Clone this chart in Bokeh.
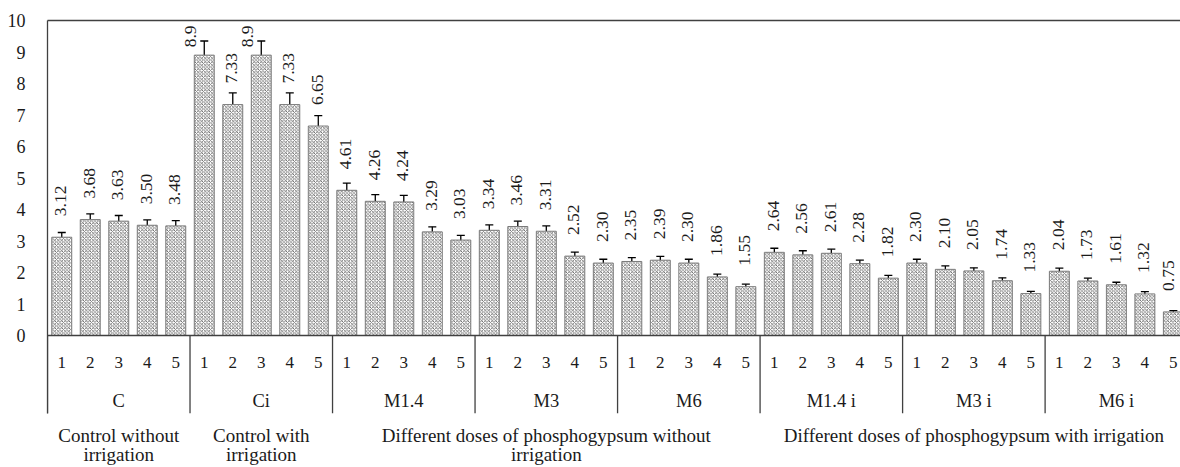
import numpy as np
from bokeh.plotting import figure
from bokeh.models import (ColumnDataSource, FixedTicker, LinearAxis, Range1d,
                          Whisker, TeeHead, Span)
from bokeh.core.properties import value
from bokeh.embed import file_html
from bokeh.resources import INLINE

# ---- data ----
groups = ["C", "Ci", "M1.4", "M3", "M6", "M1.4 i", "M3 i", "M6 i"]
doses = ["1", "2", "3", "4", "5"]
values = [3.12, 3.68, 3.63, 3.50, 3.48,
          8.90, 7.33, 8.90, 7.33, 6.65,
          4.61, 4.26, 4.24, 3.29, 3.03,
          3.34, 3.46, 3.31, 2.52, 2.30,
          2.35, 2.39, 2.30, 1.86, 1.55,
          2.64, 2.56, 2.61, 2.28, 1.82,
          2.30, 2.10, 2.05, 1.74, 1.33,
          2.04, 1.73, 1.61, 1.32, 0.75]
value_labels = ["3.12", "3.68", "3.63", "3.50", "3.48",
                "8.9", "7.33", "8.9", "7.33", "6.65",
                "4.61", "4.26", "4.24", "3.29", "3.03",
                "3.34", "3.46", "3.31", "2.52", "2.30",
                "2.35", "2.39", "2.30", "1.86", "1.55",
                "2.64", "2.56", "2.61", "2.28", "1.82",
                "2.30", "2.10", "2.05", "1.74", "1.33",
                "2.04", "1.73", "1.61", "1.32", "0.75"]
errors = [0.15, 0.18, 0.18, 0.17, 0.17,
          0.45, 0.37, 0.45, 0.37, 0.33,
          0.23, 0.21, 0.21, 0.16, 0.15,
          0.17, 0.17, 0.17, 0.13, 0.12,
          0.12, 0.12, 0.12, 0.09, 0.08,
          0.13, 0.13, 0.13, 0.11, 0.09,
          0.12, 0.11, 0.10, 0.09, 0.07,
          0.10, 0.09, 0.08, 0.07, 0.04]
descriptions = ["Control without\nirrigation", "Control with\nirrigation",
                "Different doses of phosphogypsum without\nirrigation",
                "Different doses of phosphogypsum with irrigation"]
description_spans = [1, 1, 3, 3]   # number of groups each description covers
y_ticks = [0, 1, 2, 3, 4, 5, 6, 7, 8, 9, 10]

# ---- style ----
FONT = "Liberation Serif"
TXT = "#1a1a1a"
LINE = "#404040"
W, H = 1180, 467
BORDER_L, BORDER_T, BORDER_B = 47, 20, 54
PX_PER_UNIT = 31.5
Y_TOP = 10
X_START, X_END = -0.5, 39.25
frame_h = H - BORDER_T - BORDER_B
frame_w = W - BORDER_L
y_bottom = Y_TOP - frame_h / PX_PER_UNIT      # room below 0 for category rows
slot_px = frame_w / (X_END - X_START)

n = len(values)
nd = len(doses)
x = np.arange(n, dtype=float)
vals = np.array(values)
errs = np.array(errors)

# label anchor: 21px above the bar, pushed down/left when it would leave the plot
anchor = vals + 21 / PX_PER_UNIT
limit = 9.15
clamped = anchor > limit
px = BORDER_L + (x - X_START) * slot_px
dx = np.minimum(-1.0, (W - 12) - px)          # keep labels inside the right edge
src = ColumnDataSource(dict(
    x=x, top=vals, upper=vals + errs, lower=vals - errs,
    label_y=np.minimum(anchor, limit),
    label_dx=np.where(clamped, -14.0, dx), label=value_labels))

p = figure(width=W, height=H, output_backend="svg", toolbar_location=None,
           x_range=Range1d(X_START, X_END), y_range=Range1d(y_bottom, Y_TOP),
           min_border_left=BORDER_L, min_border_right=0, min_border_top=BORDER_T,
           min_border_bottom=BORDER_B, x_axis_location=None, y_axis_location=None,
           outline_line_color=None)
p.grid.visible = False
p.background_fill_color = "white"

p.vbar(x="x", top="top", width=0.7, source=src, fill_color="white",
       line_color="#7a7a7a", line_width=1,
       hatch_pattern="x", hatch_color="#555555", hatch_scale=3.5, hatch_weight=0.8)

p.add_layout(Whisker(base="x", upper="upper", lower="lower", source=src,
                     dimension="height", line_color="black", line_width=1.3,
                     upper_head=TeeHead(size=8, line_color="black", line_width=1.3),
                     lower_head=TeeHead(size=8, line_color="black", line_width=1.3)))

p.text(x="x", y="label_y", text="label", source=src, angle=np.pi / 2,
       x_offset="label_dx", text_align="left", text_baseline="middle",
       text_font=value(FONT), text_font_size="17.5px", text_color=TXT)

# x axis line at zero and group separators
p.add_layout(Span(location=0, dimension="width", line_color=LINE, line_width=1.3))
bounds = np.array([-0.5 + nd * i for i in range(len(groups) + 1)])
p.segment(x0=bounds, y0=np.zeros(len(bounds)), x1=bounds,
          y1=np.full(len(bounds), y_bottom), line_color=LINE, line_width=1.3)

# dose numbers row
dose_src = ColumnDataSource(dict(x=x, y=np.zeros(n),
                                 t=[doses[i % nd] for i in range(n)]))
p.text(x="x", y="y", text="t", source=dose_src, y_offset=27,
       text_align="center", text_baseline="middle",
       text_font=value(FONT), text_font_size="17px", text_color=TXT)

# group names row
gcent = np.array([nd * i + (nd - 1) / 2 for i in range(len(groups))])
grp_src = ColumnDataSource(dict(x=gcent, y=np.zeros(len(groups)), t=groups))
p.text(x="x", y="y", text="t", source=grp_src, y_offset=65,
       text_align="center", text_baseline="middle",
       text_font=value(FONT), text_font_size="18.5px", text_color=TXT)

# y axis
yax = LinearAxis(ticker=FixedTicker(ticks=y_ticks), axis_line_color=LINE,
                 axis_line_width=1.3,
                 major_tick_line_color=None, minor_tick_line_color=None,
                 major_label_text_font=FONT, major_label_text_font_size="18px",
                 major_label_text_color=TXT, major_label_standoff=16)
p.add_layout(yax, "left")

# top border line
top = LinearAxis(ticker=FixedTicker(ticks=[]), axis_line_color=LINE,
                 axis_line_width=1.3,
                 major_tick_line_color=None, minor_tick_line_color=None,
                 major_label_text_font_size="0px", major_label_standoff=0)
p.add_layout(top, "above")

# description axis below the frame
dcent = []
start = 0
for span in description_spans:
    dcent.append((start * nd - 0.5 + (start + span) * nd - 0.5) / 2)
    start += span
dax = LinearAxis(ticker=FixedTicker(ticks=dcent), axis_line_color=None,
                 major_tick_line_color=None, minor_tick_line_color=None,
                 major_label_overrides={c: d for c, d in zip(dcent, descriptions)},
                 major_label_text_font=FONT, major_label_text_font_size="19px",
                 major_label_text_color=TXT, major_label_standoff=5,
                 major_label_text_line_height=0.92)
p.add_layout(dax, "below")

open("out.html", "w").write(file_html(p, INLINE))
